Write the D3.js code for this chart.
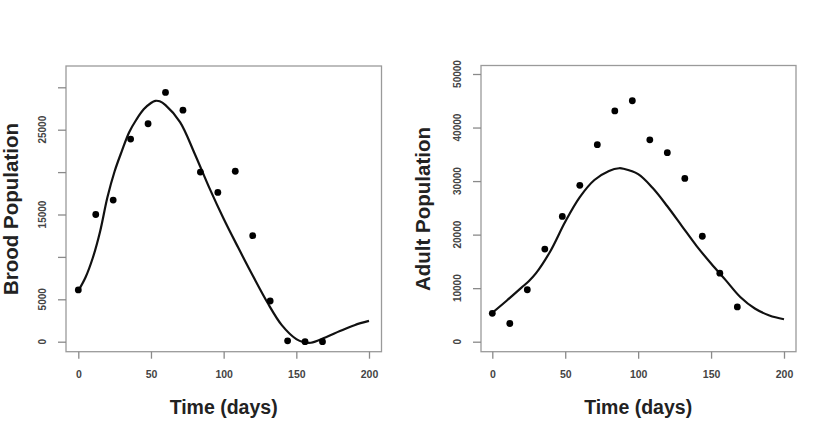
<!DOCTYPE html>
<html>
<head>
<meta charset="utf-8">
<script src="https://cdn.jsdelivr.net/npm/d3@7"></script>
<style>
  body { margin: 0; background: #fff; }
  text { font-family: "Liberation Sans", Arial, sans-serif; }
</style>
</head>
<body>
<svg id="chart" width="830" height="435"></svg>
<script>
// observation days
const days = [0, 12, 24, 36, 48, 60, 72, 84, 96, 108, 120, 132, 144, 156, 168];
const broodObs = [6100, 15000, 16700, 23900, 25700, 29400, 27300, 20000, 17600, 20100, 12500, 4800, 100, 0, 0];
const adultObs = [5300, 3400, 9700, 17300, 23400, 29200, 36800, 43100, 45000, 37700, 35300, 30500, 19700, 12800, 6500];

// model curves
const broodDays = [0, 5, 10, 15, 20, 25, 30, 35, 40, 45, 50, 53, 56, 60, 70, 80, 90, 100, 110, 120, 130, 140, 150, 155, 160, 170, 180, 190, 200];
const broodFit = [6000, 7600, 9900, 13000, 17000, 20100, 22500, 24700, 26200, 27400, 28150, 28400, 28350, 27900, 25900, 22200, 18200, 14500, 11100, 7800, 4650, 1950, 300, -50, -120, 500, 1250, 1950, 2450];
const adultDays = [0, 10, 20, 25, 30, 40, 50, 60, 70, 80, 87, 90, 100, 110, 120, 130, 140, 150, 160, 170, 180, 190, 200];
const adultFit = [5400, 7700, 10100, 11300, 12800, 17000, 22400, 27000, 30200, 31900, 32400, 32300, 31300, 28700, 25300, 21600, 17900, 14600, 11500, 8350, 6200, 4900, 4190];

const xTicks = [0, 50, 100, 150, 200];
const broodTicks = [0, 5000, 10000, 15000, 20000, 25000, 30000];
const broodLabels = [0, 5000, 15000, 25000];
const adultTicks = [0, 10000, 20000, 30000, 40000, 50000];

const svg = d3.select("#chart");

function panel(opt) {
    const g = svg.append("g");
    const x = d3.scaleLinear().domain([0, 200]).range(opt.xr);
    const y = d3.scaleLinear().domain(opt.yd).range(opt.yr);

    // box
    g.append("rect")
        .attr("x", opt.box[0]).attr("y", opt.box[1])
        .attr("width", opt.box[2] - opt.box[0]).attr("height", opt.box[3] - opt.box[1])
        .attr("fill", "none").attr("stroke", "#9a9a9a").attr("stroke-width", 1.3);

    // x axis
    const xa = g.append("g").attr("transform", `translate(0,${opt.box[3]})`)
        .call(d3.axisBottom(x).tickValues(xTicks).tickSize(7).tickPadding(12).tickFormat(d3.format("d")));
    xa.select(".domain").remove();
    xa.selectAll("line").attr("stroke", "#8a8a8a").attr("stroke-width", 1.3);
    xa.selectAll("text").attr("font-size", 10.5).attr("font-weight", "bold").attr("fill", "#444");

    // y axis
    const ya = g.append("g").attr("transform", `translate(${opt.box[0]},0)`)
        .call(d3.axisLeft(y).tickValues(opt.ticks).tickSize(8).tickFormat(""));
    ya.select(".domain").remove();
    ya.selectAll("line").attr("stroke", "#8a8a8a").attr("stroke-width", 1.3);
    g.selectAll(".ylab").data(opt.labels).enter().append("text")
        .attr("transform", d => `translate(${opt.box[0] - 20},${y(d)}) rotate(-90)`)
        .attr("text-anchor", "middle").attr("font-size", 10).attr("font-weight", "bold")
        .attr("fill", "#444").text(d => d);

    // titles
    g.append("text")
        .attr("x", (opt.xr[0] + opt.xr[1]) / 2).attr("y", 414)
        .attr("text-anchor", "middle").attr("font-size", 19.5).attr("font-weight", "bold")
        .attr("fill", "#222").text("Time (days)");
    g.append("text")
        .attr("transform", `translate(${opt.ylx},209) rotate(-90)`)
        .attr("text-anchor", "middle").attr("font-size", 20.5).attr("font-weight", "bold")
        .attr("fill", "#222").text(opt.ylabel);

    // fitted curve
    g.append("path")
        .datum(opt.cx.map((d, i) => [d, opt.cy[i]]))
        .attr("d", d3.line().x(d => x(d[0])).y(d => y(d[1])).curve(d3.curveCatmullRom))
        .attr("fill", "none").attr("stroke", "#111").attr("stroke-width", 2.2);

    // observations
    g.selectAll(".pt").data(days).enter().append("circle")
        .attr("cx", d => x(d)).attr("cy", (d, i) => y(opt.obs[i]))
        .attr("r", 3.4).attr("fill", "#000");
}

panel({
    box: [66, 66, 381.5, 351.7], xr: [78.3, 369], yd: [0, 30000], yr: [341.7, 87.3],
    ticks: broodTicks, labels: broodLabels, ylabel: "Brood Population", ylx: 18,
    cx: broodDays, cy: broodFit, obs: broodObs
});
panel({
    box: [481, 65.5, 796, 351.7], xr: [492.3, 784], yd: [0, 50000], yr: [341.7, 74],
    ticks: adultTicks, labels: adultTicks, ylabel: "Adult Population", ylx: 430,
    cx: adultDays, cy: adultFit, obs: adultObs
});
</script>
</body>
</html>
